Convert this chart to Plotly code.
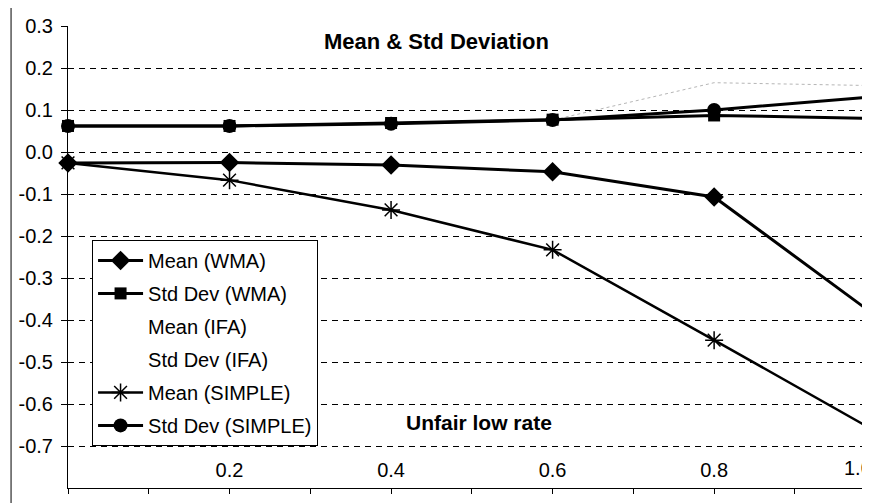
"""
Mean & Std Deviation vs unfair low rate (WMA / IFA / SIMPLE)
"""

import plotly.graph_objects as go

# unfair low rate
rate = [0.0, 0.2, 0.4, 0.6, 0.8, 1.0]

mean_wma = [-0.026, -0.025, -0.031, -0.047, -0.107, -0.39]
std_wma = [0.062, 0.062, 0.069, 0.077, 0.087, 0.080]
mean_ifa = [-0.026, -0.025, -0.031, -0.047, -0.107, -0.39]
std_ifa = [0.062, 0.062, 0.067, 0.076, 0.165, 0.158]
mean_simple = [-0.026, -0.067, -0.138, -0.233, -0.448, -0.665]
std_simple = [0.062, 0.062, 0.067, 0.076, 0.100, 0.132]

y_ticks = [0.3, 0.2, 0.1, 0.0, -0.1, -0.2, -0.3, -0.4, -0.5, -0.6, -0.7, -0.8]
y_labels = ['0.3', '0.2', '0.1', '0.0', '-0.1', '-0.2', '-0.3', '-0.4',
            '-0.5', '-0.6', '-0.7', '-0.8']
x_ticks = [0.2, 0.4, 0.6, 0.8]
x_labels = ['0.2', '0.4', '0.6', '0.8']

FONT = 'Liberation Sans, Arial, sans-serif'
INK = '#000000'

fig = go.Figure()

# IFA curves: faint, hardly visible in the original
fig.add_trace(go.Scatter(
    x=rate, y=mean_ifa, mode='lines', showlegend=False,
    line=dict(color='rgba(190,190,190,0.5)', width=1, dash='dot'),
))
fig.add_trace(go.Scatter(
    x=rate, y=std_ifa, mode='lines', showlegend=False,
    line=dict(color='rgba(150,150,150,0.7)', width=1, dash='dot'),
))

fig.add_trace(go.Scatter(
    x=rate, y=mean_wma, mode='lines+markers', name='Mean (WMA)',
    legendgroup='a', cliponaxis=False,
    line=dict(color=INK, width=3),
    marker=dict(symbol='diamond', size=15, color=INK),
))
fig.add_trace(go.Scatter(
    x=rate, y=std_wma, mode='lines+markers', name='Std Dev (WMA)',
    legendgroup='b', cliponaxis=False,
    line=dict(color=INK, width=3),
    marker=dict(symbol='square', size=12, color=INK),
))
# legend-only entries for the invisible IFA series
fig.add_trace(go.Scatter(
    x=[None], y=[None], mode='lines', name='Mean (IFA)', legendgroup='c',
    line=dict(color='rgba(0,0,0,0)', width=1),
))
fig.add_trace(go.Scatter(
    x=[None], y=[None], mode='lines', name='Std Dev (IFA)', legendgroup='d',
    line=dict(color='rgba(0,0,0,0)', width=1),
))
fig.add_trace(go.Scatter(
    x=rate, y=mean_simple, mode='lines+markers', name='Mean (SIMPLE)',
    legendgroup='e', cliponaxis=False,
    line=dict(color=INK, width=2.5),
    marker=dict(symbol='asterisk-open', size=15, color=INK,
                line=dict(color=INK, width=1.5)),
))
fig.add_trace(go.Scatter(
    x=rate, y=std_simple, mode='lines+markers', name='Std Dev (SIMPLE)',
    legendgroup='f', cliponaxis=False,
    line=dict(color=INK, width=3),
    marker=dict(symbol='circle', size=14, color=INK),
))

# chart titles sitting inside the plot area
fig.add_annotation(text='<b>Mean & Std Deviation</b>', xref='paper', yref='paper',
                   x=0.460, y=0.966, yanchor='middle', showarrow=False,
                   font=dict(family=FONT, size=22, color=INK))
fig.add_annotation(text='<b>Unfair low rate</b>', xref='paper', yref='paper',
                   x=0.513, y=0.141, yanchor='middle', showarrow=False,
                   font=dict(family=FONT, size=21, color=INK))
# the 1.0 label is cut by the right edge in the original
fig.add_annotation(text='1.0', xref='paper', yref='paper',
                   x=1.0, y=0.043, xanchor='left', yanchor='middle',
                   xshift=-28, showarrow=False,
                   font=dict(family=FONT, size=20, color=INK))

# outer chart frame (left and top edges only are on screen)
fig.add_shape(type='line', xref='paper', yref='paper',
              x0=-0.071, x1=-0.071, y0=-0.1, y1=1.041,
              line=dict(color=INK, width=1))
fig.add_shape(type='line', xref='paper', yref='paper',
              x0=-0.071, x1=1.05, y0=1.041, y1=1.041,
              line=dict(color=INK, width=1))

fig.update_xaxes(
    range=[0, 0.993], automargin=False,
    tickvals=x_ticks, ticktext=x_labels,
    ticklabelposition='inside', ticks='', ticklabelstandoff=8,
    minor=dict(dtick=0.1, tick0=0, ticks='outside', ticklen=5,
               tickcolor=INK, showgrid=False),
    showgrid=False, zeroline=False,
    showline=True, linecolor=INK, linewidth=1,
    tickfont=dict(family=FONT, size=20, color=INK),
)
fig.update_yaxes(
    range=[-0.8, 0.3], automargin=False,
    tickvals=y_ticks, ticktext=y_labels,
    ticks='outside', ticklen=6, tickcolor=INK,
    ticklabelstandoff=4,
    showgrid=True, gridcolor=INK, gridwidth=1, griddash='6px,5px',
    zeroline=False,
    showline=True, linecolor=INK, linewidth=1,
    tickfont=dict(family=FONT, size=20, color=INK),
)

# page body keeps an 8px margin, so the figure is sized to end at the window edge
fig.update_layout(
    width=862, height=495,
    margin=dict(l=60, r=0, t=18, b=15, autoexpand=False),
    paper_bgcolor='white', plot_bgcolor='white',
    font=dict(family=FONT, size=17, color=INK),
    legend=dict(
        x=0.030, y=0.537, xanchor='left', yanchor='top',
        bgcolor='white', bordercolor=INK, borderwidth=1,
        font=dict(family=FONT, size=20, color=INK),
        traceorder='grouped', tracegroupgap=4,
        itemwidth=45,
    ),
)

fig.write_html("out.html")
